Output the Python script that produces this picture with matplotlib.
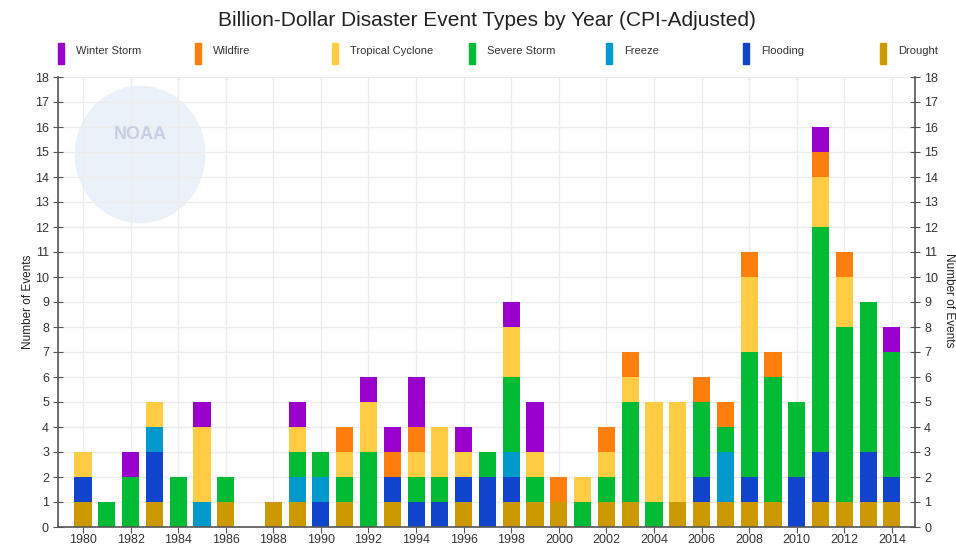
"""
Billion-dollar disaster event types by year, stacked bars.
"""

import numpy as np
import matplotlib
matplotlib.use("Agg")
import matplotlib.pyplot as plt
from matplotlib.patches import Rectangle, Circle

plt.rcParams['font.family'] = ['Liberation Sans', 'DejaVu Sans']

years = list(range(1980, 2015))

# stacked from the bottom up
drought  = [1, 0, 0, 1, 0, 0, 1, 0, 1, 1, 0, 1, 0, 1, 0, 0, 1, 0, 1, 1,
            1, 0, 1, 1, 0, 1, 1, 1, 1, 1, 0, 1, 1, 1, 1]
flooding = [1, 0, 0, 2, 0, 0, 0, 0, 0, 0, 1, 0, 0, 1, 1, 1, 1, 2, 1, 0,
            0, 0, 0, 0, 0, 0, 1, 0, 1, 0, 2, 2, 0, 2, 1]
freeze   = [0, 0, 0, 1, 0, 1, 0, 0, 0, 1, 1, 0, 0, 0, 0, 0, 0, 0, 1, 0,
            0, 0, 0, 0, 0, 0, 0, 2, 0, 0, 0, 0, 0, 0, 0]
severe   = [0, 1, 2, 0, 2, 0, 1, 0, 0, 1, 1, 1, 3, 0, 1, 1, 0, 1, 3, 1,
            0, 1, 1, 4, 1, 0, 3, 1, 5, 5, 3, 9, 7, 6, 5]
tropical = [1, 0, 0, 1, 0, 3, 0, 0, 0, 1, 0, 1, 2, 0, 1, 2, 1, 0, 2, 1,
            0, 1, 1, 1, 4, 4, 0, 0, 3, 0, 0, 2, 2, 0, 0]
wildfire = [0, 0, 0, 0, 0, 0, 0, 0, 0, 0, 0, 1, 0, 1, 1, 0, 0, 0, 0, 0,
            1, 0, 1, 1, 0, 0, 1, 1, 1, 1, 0, 1, 1, 0, 0]
winter   = [0, 0, 1, 0, 0, 1, 0, 0, 0, 1, 0, 0, 1, 1, 2, 0, 1, 0, 1, 2,
            0, 0, 0, 0, 0, 0, 0, 0, 0, 0, 0, 1, 0, 0, 1]

series = [
    ("Drought", drought, "#cc9900"),
    ("Flooding", flooding, "#1144cc"),
    ("Freeze", freeze, "#0099cc"),
    ("Severe Storm", severe, "#00bb33"),
    ("Tropical Cyclone", tropical, "#ffcc44"),
    ("Wildfire", wildfire, "#ff7f0e"),
    ("Winter Storm", winter, "#9900cc"),
]
legend_order = ["Winter Storm", "Wildfire", "Tropical Cyclone", "Severe Storm",
                "Freeze", "Flooding", "Drought"]

W, H = 956, 544
fig = plt.figure(figsize=(W / 100, H / 100), dpi=100)
ax = fig.add_axes([58 / W, 1 - 527 / H, (915 - 58) / W, (527 - 77) / H])

# faint NOAA-style watermark
logo = Circle((1982.4, 14.9), 2.75, transform=ax.transData, color="#e6eef7",
              alpha=0.8, zorder=0.5, lw=0)
ax.add_patch(logo)
ax.text(1982.4, 15.7, "NOAA", ha="center", va="center", color="#c9cfe0",
        fontsize=13, fontweight="bold", zorder=0.6)

bottom = np.zeros(len(years))
for name, vals, color in series:
    ax.bar(years, vals, width=0.72, bottom=bottom, color=color,
           edgecolor="none", zorder=2)
    bottom += np.array(vals)

ax.set_xlim(1978.95, 2014.97)
ax.set_ylim(0, 18)
ax.set_yticks(range(0, 19))
ax.set_xticks(range(1980, 2015, 2))
ax.grid(True, color="#ececec", lw=1, zorder=0)
ax.set_axisbelow(True)

for s in ["left", "right", "bottom"]:
    ax.spines[s].set_color("#555555")
    ax.spines[s].set_linewidth(1.2)
ax.spines["top"].set_visible(False)

ax.tick_params(axis="y", direction="inout", length=7, color="#555555",
               labelsize=9, labelcolor="#333333", left=True, right=True,
               labelright=True, pad=3)
ax.tick_params(axis="x", direction="out", length=4, color="#555555",
               labelsize=9, labelcolor="#333333", pad=1)

fig.text(28 / W, 1 - 302 / H, "Number of Events", rotation=90,
         ha="center", va="center", fontsize=8.5, color="#222222")
fig.text(949 / W, 1 - 300 / H, "Number of Events", rotation=-90,
         ha="center", va="center", fontsize=8.5, color="#222222")

fig.text(487 / W, 1 - 20 / H, "Billion-Dollar Disaster Event Types by Year (CPI-Adjusted)",
         ha="center", va="center", fontsize=15, color="#222222")

# legend row
colors = {name: color for name, _, color in series}
for i, name in enumerate(legend_order):
    x0 = 58 + 137 * i
    fig.add_artist(Rectangle((x0 / W, 1 - 64 / H), 6 / W, 21 / H,
                             transform=fig.transFigure, color=colors[name]))
    fig.text((x0 + 18) / W, 1 - 51 / H, name, ha="left", va="center",
             fontsize=8, color="#333333")

fig.savefig("out.png", dpi=100)
